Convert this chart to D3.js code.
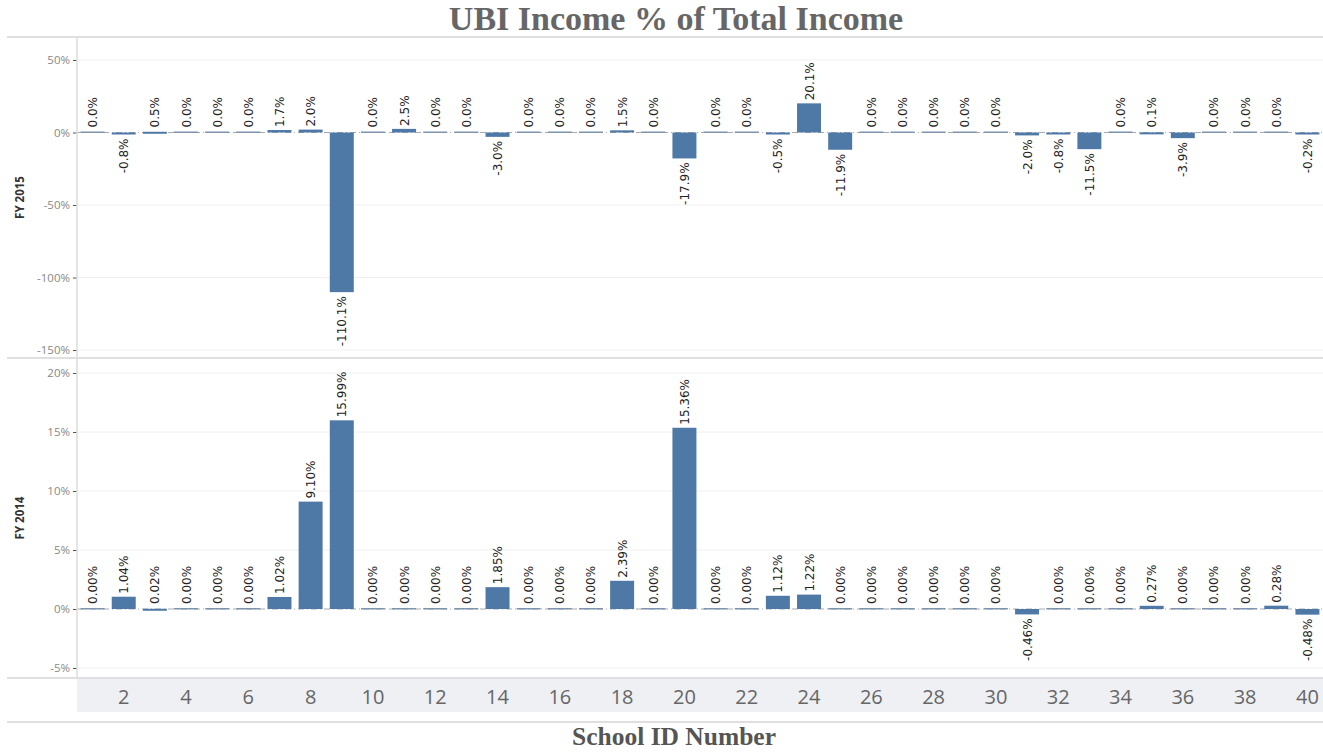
<!DOCTYPE html>
<html>
<head>
<meta charset="utf-8">
<script src="https://cdn.jsdelivr.net/npm/d3@7"></script>
<style>
  body { margin: 0; background: #fff; }
  svg { display: block; }
</style>
</head>
<body>
<svg id="chart" width="1323" height="753"></svg>
<script>
const schools = d3.range(1, 41);
const fy2015 = [0.0, -0.8, 0.5, 0.0, 0.0, 0.0, 1.7, 2.0, -110.1, 0.0,
  2.5, 0.0, 0.0, -3.0, 0.0, 0.0, 0.0, 1.5, 0.0, -17.9,
  0.0, 0.0, -0.5, 20.1, -11.9, 0.0, 0.0, 0.0, 0.0, 0.0,
  -2.0, -0.8, -11.5, 0.0, 0.1, -3.9, 0.0, 0.0, 0.0, -0.2];
const fy2014 = [0.00, 1.04, 0.02, 0.00, 0.00, 0.00, 1.02, 9.10, 15.99, 0.00,
  0.00, 0.00, 0.00, 1.85, 0.00, 0.00, 0.00, 2.39, 0.00, 15.36,
  0.00, 0.00, 1.12, 1.22, 0.00, 0.00, 0.00, 0.00, 0.00, 0.00,
  -0.46, 0.00, 0.00, 0.00, 0.27, 0.00, 0.00, 0.00, 0.28, -0.48];
const ticks2015 = [50, 0, -50, -100, -150];
const ticks2014 = [20, 15, 10, 5, 0, -5];
const xTicks = [2, 4, 6, 8, 10, 12, 14, 16, 18, 20, 22, 24, 26, 28, 30, 32, 34, 36, 38, 40];

const width = 1323;
const left = 77;
const barColor = "#4e79a7";
const svg = d3.select("#chart");

const x = d3.scaleBand()
  .domain(schools)
  .range([left, width])
  .paddingInner(0.23)
  .paddingOuter(0.115);

// panels
const panels = [
  { name: "FY 2015", data: fy2015, ticks: ticks2015, top: 37, bottom: 358,
    y: d3.scaleLinear().domain([-150, 50]).range([350, 60]), fmt: (v) => v.toFixed(1) + "%" },
  { name: "FY 2014", data: fy2014, ticks: ticks2014, top: 358, bottom: 678,
    y: d3.scaleLinear().domain([-5, 20]).range([668, 373]), fmt: (v) => v.toFixed(2) + "%" },
];

// title
svg.append("text")
  .attr("x", 676)
  .attr("y", 30)
  .attr("text-anchor", "middle")
  .attr("font-family", "Liberation Serif, serif")
  .attr("font-weight", "bold")
  .attr("font-size", 34)
  .attr("fill", "#666")
  .text("UBI Income % of Total Income");

panels.forEach((p) => {
  const g = svg.append("g");

  // grid lines
  g.selectAll("line.grid")
    .data(p.ticks.filter((t) => t !== 0))
    .join("line")
    .attr("x1", left)
    .attr("x2", width)
    .attr("y1", (d) => p.y(d))
    .attr("y2", (d) => p.y(d))
    .attr("stroke", "#f0f0f0")
    .attr("stroke-width", 1);

  // y axis
  const yAxis = g.append("g")
    .attr("transform", `translate(${left},0)`)
    .call(d3.axisLeft(p.y).tickValues(p.ticks).tickSize(4).tickFormat((d) => d + "%"));
  yAxis.select(".domain").remove();
  yAxis.selectAll("line").attr("stroke", "#555");
  yAxis.selectAll("text")
    .attr("font-family", "Open Sans, sans-serif")
    .attr("font-size", 11.5)
    .attr("fill", "#888");

  // row label
  g.append("text")
    .attr("transform", `translate(24,${(p.top + p.bottom) / 2}) rotate(-90)`)
    .attr("text-anchor", "middle")
    .attr("font-family", "Open Sans, sans-serif")
    .attr("font-weight", "bold")
    .attr("font-size", 11.5)
    .attr("fill", "#333")
    .text(p.name);

  // zero line
  g.append("line")
    .attr("x1", left)
    .attr("x2", width)
    .attr("y1", p.y(0))
    .attr("y2", p.y(0))
    .attr("stroke", "#aaa")
    .attr("stroke-width", 1)
    .attr("stroke-dasharray", "6,3,1,3");

  // bars
  g.selectAll("rect.bar")
    .data(p.data)
    .join("rect")
    .attr("x", (d, i) => x(schools[i]))
    .attr("width", x.bandwidth())
    .attr("y", (d) => d === 0 ? p.y(0) - 1 : Math.min(p.y(d), p.y(0)))
    .attr("height", (d) => d === 0 ? 1.5 : Math.max(Math.abs(p.y(d) - p.y(0)), 2))
    .attr("fill", (d) => d === 0 ? "#7e93ad" : barColor);

  // labels
  g.selectAll("text.lbl")
    .data(p.data)
    .join("text")
    .attr("transform", (d, i) => {
      const cx = x(schools[i]) + x.bandwidth() / 2 + 4.5;
      const yy = d < 0 ? Math.max(p.y(d), p.y(0) + 2) + 4 : Math.min(p.y(d), p.y(0) - 2) - 3;
      return `translate(${cx},${yy}) rotate(-90)`;
    })
    .attr("text-anchor", (d) => d < 0 ? "end" : "start")
    .attr("font-family", "DejaVu Sans, sans-serif")
    .attr("font-size", 12)
    .attr("fill", "#222")
    .text((d) => p.fmt(d));
});

// frame lines
const frame = [
  [7, 37, width, 37],
  [7, 358, width, 358],
  [7, 678, width, 678],
  [7, 722, width, 722],
];
svg.selectAll("line.frame")
  .data(frame)
  .join("line")
  .attr("x1", (d) => d[0]).attr("y1", (d) => d[1])
  .attr("x2", (d) => d[2]).attr("y2", (d) => d[3])
  .attr("stroke", "#d4d4d4")
  .attr("stroke-width", 1.5);

svg.append("line")
  .attr("x1", left).attr("x2", left)
  .attr("y1", 37).attr("y2", 678)
  .attr("stroke", "#ddd")
  .attr("stroke-width", 1.5);

// x axis band
svg.append("rect")
  .attr("x", left)
  .attr("y", 679)
  .attr("width", width - left)
  .attr("height", 33)
  .attr("fill", "#eef0f4");

const xAxis = svg.append("g")
  .attr("transform", "translate(0,679)")
  .call(d3.axisBottom(x).tickValues(xTicks).tickSize(0));
xAxis.select(".domain").remove();
xAxis.selectAll("text")
  .attr("dy", 0)
  .attr("y", 25)
  .attr("font-family", "Open Sans, sans-serif")
  .attr("font-size", 20)
  .attr("fill", "#666");

svg.append("text")
  .attr("x", 674)
  .attr("y", 745)
  .attr("text-anchor", "middle")
  .attr("font-family", "Liberation Serif, serif")
  .attr("font-weight", "bold")
  .attr("font-size", 25.5)
  .attr("fill", "#555")
  .text("School ID Number");
</script>
</body>
</html>
